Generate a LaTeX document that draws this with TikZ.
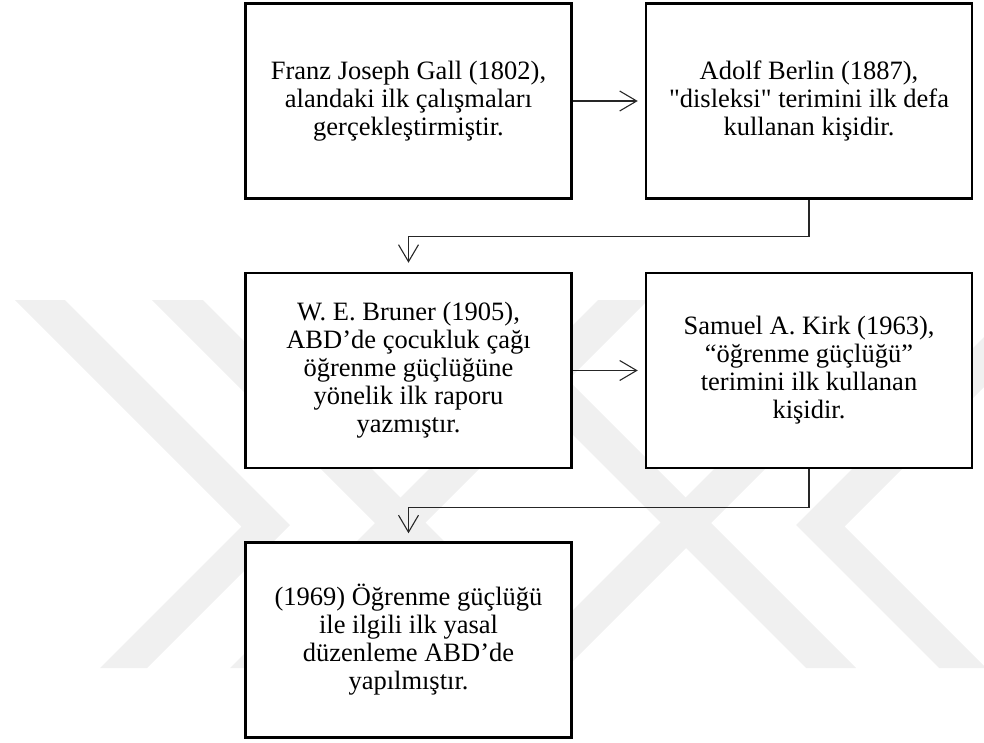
\documentclass[tikz,border=0pt]{standalone}
\usepackage{fontspec}
\setmainfont{Liberation Serif}[Ligatures=TeXOff]
\usetikzlibrary{arrows.meta}

\definecolor{wmark}{RGB}{240,240,240}

\tikzset{
  stepbox/.style={draw=black, line width=2.5pt, fill=white,
    minimum width=326pt, minimum height=195pt, inner sep=0pt,
    align=center, font=\fontsize{26.5}{28}\selectfont},
  conn/.style={draw=black!85, line width=1.1pt,
    -{Straight Barb[length=17pt,width=20pt,line width=1.1pt]},
    shorten >=7pt},
  wm/.style={fill=wmark, draw=none}
}

\begin{document}
\begin{tikzpicture}[x=1pt,y=-1pt]
\useasboundingbox (0,0) rectangle (984,742);

% faint background emblem made of diagonal bands
\begin{scope}
  \clip (0,0) rectangle (984,742);
  % left chevron
  \fill[wm] (15,300) -- (65,300) -- (290,525) -- (147,668) -- (100,668) -- (241.5,526.5) -- cycle;
  % right chevron
  \fill[wm] (1071,300) -- (1021,300) -- (796,525) -- (939,668) -- (986,668) -- (844.5,526.5) -- cycle;
  % V bands
  \fill[wm] (152,300) -- (203,300) -- (571,668) -- (520,668) -- cycle;
  \fill[wm] (934,300) -- (883,300) -- (515,668) -- (566,668) -- cycle;
  % inverted V bands
  \fill[wm] (598,300) -- (648,300) -- (280,668) -- (230,668) -- cycle;
  \fill[wm] (488,300) -- (438,300) -- (806,668) -- (856,668) -- cycle;
\end{scope}

% boxes
\node[stepbox] (gall)   at (408.5,101)   {Franz Joseph Gall (1802),\\ alandaki ilk çalışmaları\\ gerçekleştirmiştir.};
\node[stepbox] (berlin) at (809,101)     {Adolf Berlin (1887),\\ "disleksi" terimini ilk defa\\ kullanan kişidir.};
\node[stepbox] (bruner) at (408.5,370.5) {W. E. Bruner (1905),\\ ABD’de çocukluk çağı\\ öğrenme güçlüğüne\\ yönelik ilk raporu\\ yazmıştır.};
\node[stepbox] (kirk)   at (809,370.5)   {Samuel A. Kirk (1963),\\ “öğrenme güçlüğü”\\ terimini ilk kullanan\\ kişidir.};
\node[stepbox] (law)    at (408.5,640)   {(1969) Öğrenme güçlüğü\\ ile ilgili ilk yasal\\ düzenleme ABD’de\\ yapılmıştır.};

% connectors
\draw[conn] (gall.east) -- (berlin.west);
\draw[conn, shorten >=9pt] (berlin.south) -- ++(0,37) -| (bruner.north);
\draw[conn] (bruner.east) -- (kirk.west);
\draw[conn, shorten >=8pt] (kirk.south) -- ++(0,38) -| (law.north);
\end{tikzpicture}
\end{document}
